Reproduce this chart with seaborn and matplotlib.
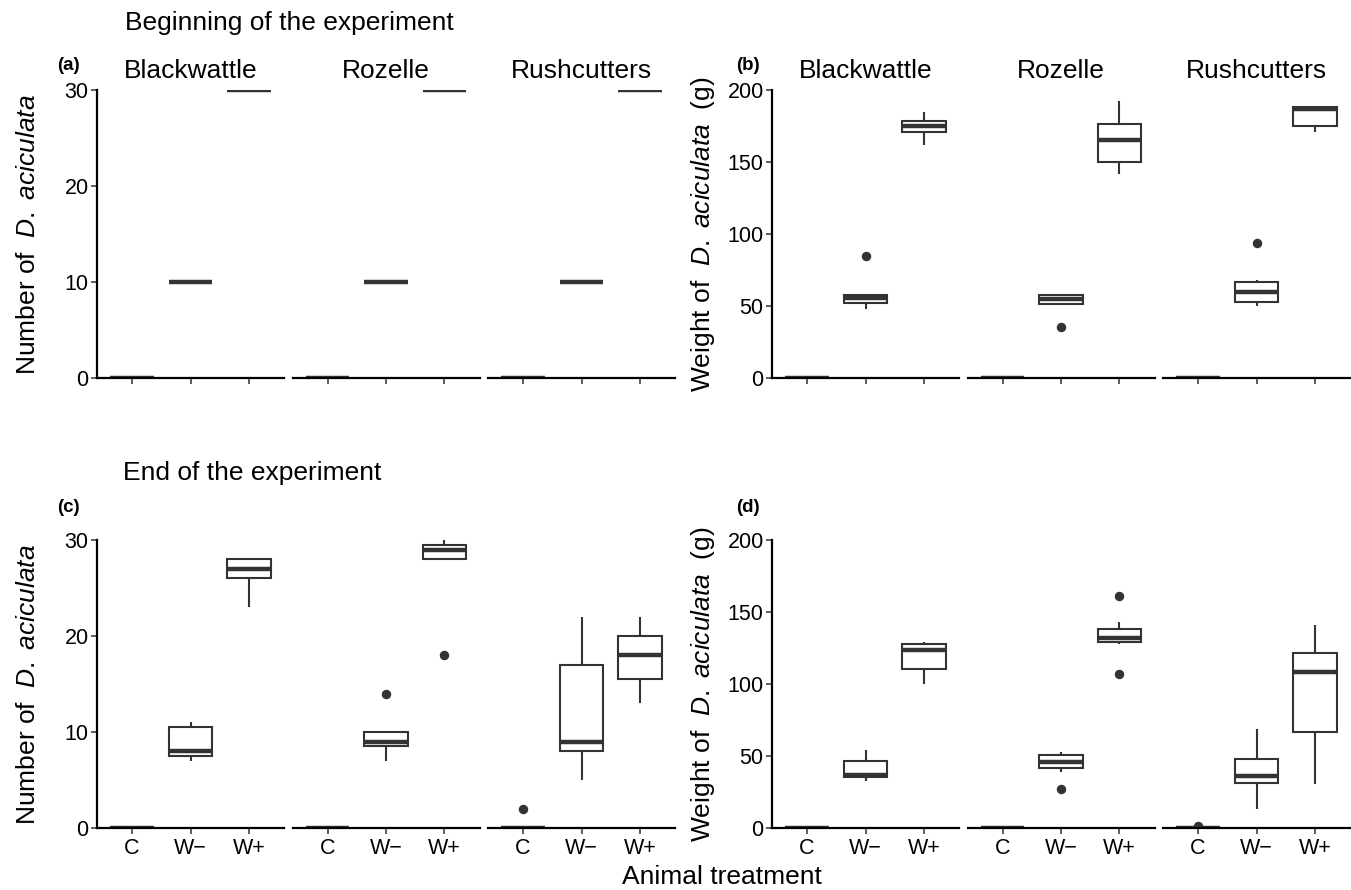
import numpy as np
import pandas as pd
import matplotlib
matplotlib.use("Agg")
import matplotlib.pyplot as plt
import seaborn as sns

sns.set_style("white")
plt.rcParams['font.family'] = ['Liberation Sans', 'DejaVu Sans']
plt.rcParams['text.color'] = 'black'
plt.rcParams['mathtext.fontset'] = 'custom'
plt.rcParams['mathtext.rm'] = 'Liberation Sans'
plt.rcParams['mathtext.it'] = 'Liberation Sans:italic'

# ---------------- data ----------------
treatments = ["C", "W−", "W+"]
sites = ["Blackwattle", "Rozelle", "Rushcutters"]

# (a) Number of D. aciculata, beginning of the experiment
a_blackwattle = {"C": [0, 0, 0, 0, 0], "W−": [10, 10, 10, 10, 10], "W+": [30, 30, 30, 30, 30]}
a_rozelle = {"C": [0, 0, 0, 0, 0], "W−": [10, 10, 10, 10, 10], "W+": [30, 30, 30, 30, 30]}
a_rushcutters = {"C": [0, 0, 0, 0, 0], "W−": [10, 10, 10, 10, 10], "W+": [30, 30, 30, 30, 30]}

# (b) Weight of D. aciculata (g), beginning of the experiment
b_blackwattle = {"C": [0, 0, 0, 0, 0], "W−": [47.9, 52.0, 55.3, 57.5, 84.9],
                 "W+": [162.1, 170.9, 175.0, 178.5, 184.7]}
b_rozelle = {"C": [0, 0, 0, 0, 0], "W−": [35.6, 51.6, 54.8, 57.3, 58.5],
             "W+": [142.0, 149.8, 165.1, 176.6, 192.6]}
b_rushcutters = {"C": [0, 0, 0, 0, 0], "W−": [50.2, 52.2, 55.4, 63.4, 68.2, 93.6],
                 "W+": [171.0, 175.3, 186.8, 188.4, 189.0]}

# (c) Number of D. aciculata, end of the experiment
c_blackwattle = {"C": [0, 0, 0, 0, 0], "W−": [7, 7.5, 8, 10.5, 11], "W+": [23, 26, 27, 28, 28]}
c_rozelle = {"C": [0, 0, 0, 0, 0], "W−": [7, 8.5, 9, 10, 14], "W+": [18, 28, 29, 29.5, 30]}
c_rushcutters = {"C": [0, 0, 0, 0, 2], "W−": [5, 8, 9, 17, 22], "W+": [13, 15.5, 18, 20, 22]}

# (d) Weight of D. aciculata (g), end of the experiment
d_blackwattle = {"C": [0, 0, 0, 0, 0], "W−": [32.6, 35.2, 37.0, 46.8, 54.4],
                 "W+": [100.0, 110.4, 123.8, 127.5, 129.2]}
d_rozelle = {"C": [0, 0, 0, 0, 0], "W−": [27.3, 39.1, 43.7, 45.8, 49.0, 52.0, 52.8],
             "W+": [106.7, 128.0, 129.8, 131.7, 133.8, 143.0, 160.9]}
d_rushcutters = {"C": [0, 0, 0, 0, 1.2], "W−": [13.2, 31.5, 35.9, 47.9, 68.8],
                 "W+": [30.3, 66.4, 108.6, 121.8, 141.2]}

num_ticks = [0, 10, 20, 30]
wt_ticks = [0, 50, 100, 150, 200]

num_label = r"Number of  $\mathit{D.\ aciculata}$"
wt_label = r"Weight of  $\mathit{D.\ aciculata}$  (g)"


def to_frame(d):
    rows = []
    for t in treatments:
        for v in d[t]:
            rows.append({"treatment": t, "value": v})
    return pd.DataFrame(rows)


# ---------------- layout ----------------
W, H = 1351, 890
fig = plt.figure(figsize=(W / 100, H / 100), dpi=100)


def ax_at(x0, y0, x1, y1):
    return fig.add_axes([x0 / W, 1 - y1 / H, (x1 - x0) / W, (y1 - y0) / H])


panels = [
    dict(data=[a_blackwattle, a_rozelle, a_rushcutters], ylim=(0, 30), ticks=num_ticks,
         x0=97, top=90, bottom=378, letter="(a)", lx=57, ly=70, strips=True, xlabels=False,
         ylabel=num_label, ylx=28),
    dict(data=[b_blackwattle, b_rozelle, b_rushcutters], ylim=(0, 200), ticks=wt_ticks,
         x0=772, top=90, bottom=378, letter="(b)", lx=736, ly=70, strips=True, xlabels=False,
         ylabel=wt_label, ylx=703),
    dict(data=[c_blackwattle, c_rozelle, c_rushcutters], ylim=(0, 30), ticks=num_ticks,
         x0=97, top=540, bottom=828, letter="(c)", lx=57, ly=512, strips=False, xlabels=True,
         ylabel=num_label, ylx=28),
    dict(data=[d_blackwattle, d_rozelle, d_rushcutters], ylim=(0, 200), ticks=wt_ticks,
         x0=772, top=540, bottom=828, letter="(d)", lx=736, ly=512, strips=False, xlabels=True,
         ylabel=wt_label, ylx=703),
]

facet_w = 187
facet_gap = 8.5
line_col = "#333333"
big = 19

for p in panels:
    for j, site in enumerate(sites):
        fx0 = p["x0"] + j * (facet_w + facet_gap)
        ax = ax_at(fx0, p["top"], fx0 + facet_w, p["bottom"])
        df = to_frame(p["data"][j])
        sns.boxplot(data=df, x="treatment", y="value", order=treatments, ax=ax,
                    color="white", saturation=1, linecolor=line_col, linewidth=1.5,
                    width=0.75, whis=1.5, showcaps=False,
                    flierprops=dict(marker="o", markersize=5.8, markerfacecolor=line_col,
                                    markeredgecolor=line_col),
                    medianprops=dict(linewidth=3.2, color=line_col))
        ax.set_xlim(-0.6, 2.6)
        ax.set_ylim(*p["ylim"])
        ax.set_xlabel("")
        ax.set_ylabel("")
        ax.set_facecolor("white")
        for s in ["top", "right"]:
            ax.spines[s].set_visible(False)
        ax.spines["bottom"].set_color("black")
        ax.spines["bottom"].set_linewidth(1.6)
        ax.spines["bottom"].set_zorder(5)
        ax.set_xticks([0, 1, 2])
        if p["xlabels"]:
            ax.set_xticklabels(treatments)
        else:
            ax.set_xticklabels([])
        ax.tick_params(axis="x", bottom=True, length=4, width=1.1, color=line_col,
                       labelsize=15.5, pad=3, direction="out", labelcolor="black")
        ax.set_yticks(p["ticks"])
        if j == 0:
            ax.spines["left"].set_visible(True)
            ax.spines["left"].set_color("black")
            ax.spines["left"].set_linewidth(1.6)
            ax.tick_params(axis="y", left=True, length=4, width=1.1, color=line_col,
                           labelsize=15.5, pad=2, direction="out", labelcolor="black")
        else:
            ax.spines["left"].set_visible(False)
            ax.tick_params(axis="y", left=False, labelleft=False)
        if p["strips"]:
            fig.text((fx0 + facet_w / 2) / W, 1 - 78 / H, site, ha="center", va="baseline",
                     fontsize=big)
    fig.text(p["lx"] / W, 1 - p["ly"] / H, p["letter"], ha="left", va="baseline",
             fontsize=13.5, fontweight="bold")
    fig.text(p["ylx"] / W, 1 - ((p["top"] + p["bottom"]) / 2) / H, p["ylabel"],
             rotation=90, ha="center", va="center", fontsize=big)

fig.text(125 / W, 1 - 30 / H, "Beginning of the experiment", ha="left", va="baseline", fontsize=big)
fig.text(123 / W, 1 - 480 / H, "End of the experiment", ha="left", va="baseline", fontsize=big)
fig.text(722 / W, 1 - 884 / H, "Animal treatment", ha="center", va="baseline", fontsize=big)

fig.savefig("out.png", dpi=100)
